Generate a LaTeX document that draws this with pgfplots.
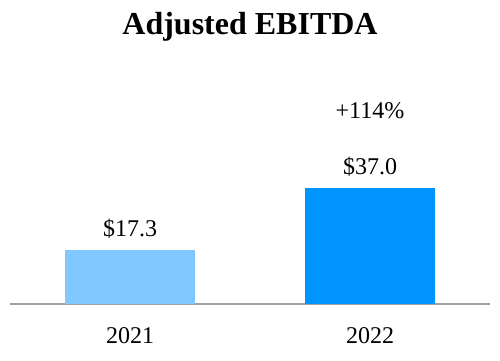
\documentclass[border=0pt]{standalone}
\usepackage{fontspec}
\setmainfont{Liberation Serif}
\usepackage{pgfplots}
\pgfplotsset{compat=1.18}
\definecolor{lightbar}{HTML}{80C8FF}
\definecolor{darkbar}{HTML}{0094FF}
\definecolor{basegray}{HTML}{A0A0A0}
\begin{document}
\begin{tikzpicture}[x=1pt,y=1pt]
\path[use as bounding box] (0,0) rectangle (500,360);
\node[anchor=base,font=\fontsize{32}{36}\selectfont\bfseries] at (250,326) {Adjusted EBITDA};
\begin{axis}[
  at={(10pt,56pt)}, anchor=south west,
  scale only axis, width=480pt, height=244pt,
  xmin=-0.5, xmax=1.5, ymin=0, ymax=77.8,
  axis x line*=bottom, hide y axis,
  x axis line style={draw=basegray, line width=1.5pt, -},
  major tick length=0pt,
  xtick={0,1}, xticklabels={2021,2022},
  xticklabel style={anchor=center, yshift=-32pt, font=\fontsize{24}{28}\selectfont},
  ybar, bar width=130pt, bar shift=0pt,
  nodes near coords, point meta=explicit symbolic,
  every node near coord/.append style={anchor=base, inner sep=0pt, yshift=13pt, font=\fontsize{24}{28}\selectfont},
  clip=false,
]
\addplot[fill=lightbar, draw=none] coordinates {(0,17.3) [\$17.3]};
\addplot[fill=darkbar, draw=none] coordinates {(1,37.0) [\$37.0]};
\node[anchor=base, inner sep=0pt, font=\fontsize{24}{28}\selectfont] at (axis cs:1,37.0) [yshift=69pt] {+114\%};
\end{axis}
\end{tikzpicture}
\end{document}
